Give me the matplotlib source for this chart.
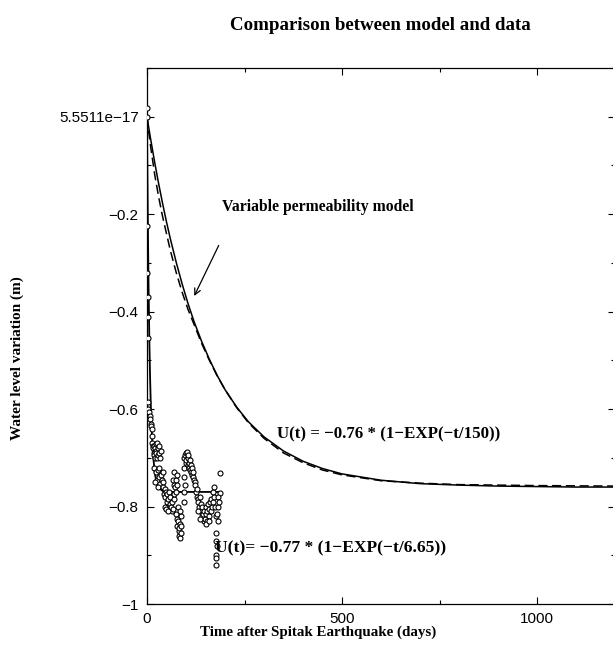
"""Water level response after the Spitak earthquake: model vs data."""
import matplotlib
matplotlib.use("Agg")
import matplotlib.pyplot as plt
from matplotlib.ticker import MultipleLocator, FixedLocator, FixedFormatter

plt.rcParams.update({"font.family": "Liberation Sans", "font.size": 11})
SERIF = "Liberation Serif"

# observed water level (days, m)
obs_t = [0, 0.2, 0.5, 1.0, 1.3, 1.6, 2.0, 2.5, 3.5,
         5, 7, 8, 10, 11, 12, 13, 14, 15,
         16, 17, 18, 19, 20, 21, 22, 23, 24, 25, 26, 27, 28, 30, 31, 33, 35,
         18, 22, 25, 28, 30, 32, 35, 38, 40, 42, 20, 27,
         40, 43, 45, 47, 49, 50, 52, 53, 55, 57, 58, 60, 62, 63, 65, 67, 68, 70, 45, 48, 55,
         66, 68, 70, 72, 74, 75, 77, 78,
         75, 77, 78, 80, 81, 82, 83, 84, 85, 86, 88, 80, 84, 87,
         95, 96, 98, 99, 100, 101, 103, 104, 105, 106, 107, 108, 109, 110, 112, 113,
         115, 116, 118, 119, 120, 122, 124, 96, 97, 94, 95,
         125, 127, 128, 130, 132, 133, 135, 137, 138, 140, 142, 143, 145, 146, 148, 150,
         152, 153, 155, 157, 158, 160, 162, 163, 165, 167, 168, 170, 172, 173, 175, 176,
         130, 135, 150, 160,
         187, 186, 183, 181, 184, 179, 181, 178, 177, 179, 178, 177, 178]
obs_u = [0.017, 0.0, -0.225, -0.32, -0.37, -0.41, -0.455, -0.585, -0.60,
         -0.605, -0.615, -0.62, -0.63, -0.635, -0.64, -0.655, -0.67, -0.675,
         -0.68, -0.69, -0.675, -0.695, -0.68, -0.70, -0.685, -0.672, -0.69, -0.67, -0.70, -0.68,
         -0.695, -0.675, -0.69, -0.70, -0.685,
         -0.72, -0.73, -0.745, -0.725, -0.74, -0.72, -0.735, -0.745, -0.73, -0.75, -0.75, -0.76,
         -0.76, -0.775, -0.765, -0.78, -0.77, -0.79, -0.775, -0.80, -0.785, -0.77, -0.795, -0.78,
         -0.80, -0.81, -0.79, -0.805, -0.785, -0.775, -0.80, -0.805, -0.81,
         -0.745, -0.755, -0.73, -0.76, -0.745, -0.77, -0.755, -0.735,
         -0.815, -0.825, -0.84, -0.83, -0.85, -0.845, -0.86, -0.835, -0.865, -0.855, -0.82,
         -0.80, -0.81, -0.84,
         -0.72, -0.70, -0.695, -0.71, -0.69, -0.705, -0.688, -0.70, -0.715, -0.695, -0.71,
         -0.72, -0.705, -0.725, -0.715, -0.73,
         -0.72, -0.735, -0.74, -0.73, -0.745, -0.75, -0.755, -0.74, -0.755, -0.77, -0.79,
         -0.77, -0.78, -0.765, -0.785, -0.79, -0.80, -0.78, -0.81, -0.795, -0.82, -0.80,
         -0.815, -0.83, -0.81, -0.825, -0.80,
         -0.815, -0.83, -0.81, -0.795, -0.82, -0.805, -0.79, -0.81, -0.785, -0.80, -0.77,
         -0.79, -0.76, -0.78, -0.80, -0.82,
         -0.81, -0.825, -0.835, -0.83,
         -0.732, -0.772, -0.78, -0.80, -0.79, -0.815, -0.83, -0.855, -0.87, -0.88, -0.90,
         -0.905, -0.92]

# fast fit U(t) = -0.77 * (1-EXP(-t/6.65))
fast_t = [0, 0.5, 1, 2, 3, 4, 6, 8, 10, 12, 15, 20, 25, 30, 40, 50, 100, 187]
fast_u = [0, -0.056, -0.108, -0.200, -0.280, -0.348, -0.458, -0.539, -0.599, -0.643,
          -0.689, -0.732, -0.752, -0.762, -0.768, -0.770, -0.770, -0.770]

# slow fit U(t) = -0.76 * (1-EXP(-t/150))
slow_t = [0, 5, 10, 20, 30, 40, 50, 60, 75, 90, 105, 120, 140, 160, 180, 200, 230, 260,
          300, 350, 400, 450, 500, 600, 700, 800, 900, 1000, 1100, 1200]
slow_u = [0, -0.025, -0.049, -0.095, -0.138, -0.178, -0.216, -0.251, -0.299, -0.343,
          -0.383, -0.419, -0.461, -0.498, -0.531, -0.560, -0.596, -0.626, -0.657, -0.686,
          -0.707, -0.722, -0.733, -0.746, -0.753, -0.756, -0.758, -0.759, -0.760, -0.760]

# variable permeability model
var_t = [0, 5, 10, 20, 30, 40, 50, 60, 75, 90, 105, 120, 140, 160, 180, 200, 230, 260,
         300, 350, 400, 450, 500, 600, 700, 800, 1000, 1200]
var_u = [0, -0.035, -0.065, -0.120, -0.165, -0.205, -0.240, -0.275, -0.320, -0.360,
         -0.395, -0.425, -0.465, -0.500, -0.532, -0.560, -0.597, -0.628, -0.660, -0.690,
         -0.710, -0.725, -0.735, -0.747, -0.752, -0.755, -0.757, -0.758]

W, H = 613, 646
fig = plt.figure(figsize=(W / 100, H / 100), dpi=100)
ax = fig.add_axes([147 / W, 42 / H, 468 / W, 536 / H])

ax.plot(var_t, var_u, color="black", lw=1.1, ls=(0, (6, 3)), zorder=2)
ax.plot(slow_t, slow_u, color="black", lw=1.1, zorder=2)
ax.plot(fast_t, fast_u, color="black", lw=1.3, zorder=2)
ax.plot(obs_t, obs_u, ls="none", marker="o", ms=3.6, mfc="white", mec="black",
        mew=0.8, zorder=3)

ax.set_xlim(0, 1200)
ax.set_ylim(-1, 0.1)
ax.xaxis.set_major_locator(FixedLocator([0, 500, 1000]))
ax.xaxis.set_minor_locator(MultipleLocator(250))
yt = [-1, -0.8, -0.6, -0.4, -0.2, 0]
ax.yaxis.set_major_locator(FixedLocator(yt))
ax.yaxis.set_major_formatter(FixedFormatter(["\u22121", "\u22120.8", "\u22120.6",
                                             "\u22120.4", "\u22120.2", "5.5511e\u221217"]))
ax.yaxis.set_minor_locator(MultipleLocator(0.1))
ax.tick_params(which="both", direction="in", top=True, right=True, width=0.8)
ax.tick_params(which="major", length=5, labelsize=11, pad=6)
ax.tick_params(which="minor", length=3)
for s in ax.spines.values():
    s.set_linewidth(0.9)

ax.text(192, -0.185, "Variable permeability model", family=SERIF, weight="bold",
        fontsize=11.3, va="center")
ax.annotate("", xy=(118, -0.373), xytext=(187, -0.259),
            arrowprops=dict(arrowstyle="->", color="black", lw=0.9))
ax.text(333, -0.651, "U(t) = \u22120.76 * (1\u2212EXP(\u2212t/150))", family=SERIF,
        weight="bold", fontsize=12.2, va="center")
ax.text(174, -0.886, "U(t)= \u22120.77 * (1\u2212EXP(\u2212t/6.65))", family=SERIF,
        weight="bold", fontsize=12.6, va="center")

fig.text(380 / W, 1 - 25 / H, "Comparison between model and data", family=SERIF,
         weight="bold", fontsize=13.6, ha="center", va="center")
fig.text(318 / W, 1 - 632 / H, "Time after Spitak Earthquake (days)", family=SERIF,
         weight="bold", fontsize=10.8, ha="center", va="center")
fig.text(17 / W, 1 - 358 / H, "Water level variation (m)", family=SERIF,
         weight="bold", fontsize=11, ha="center", va="center", rotation=90)

fig.savefig("out.png", dpi=100)
